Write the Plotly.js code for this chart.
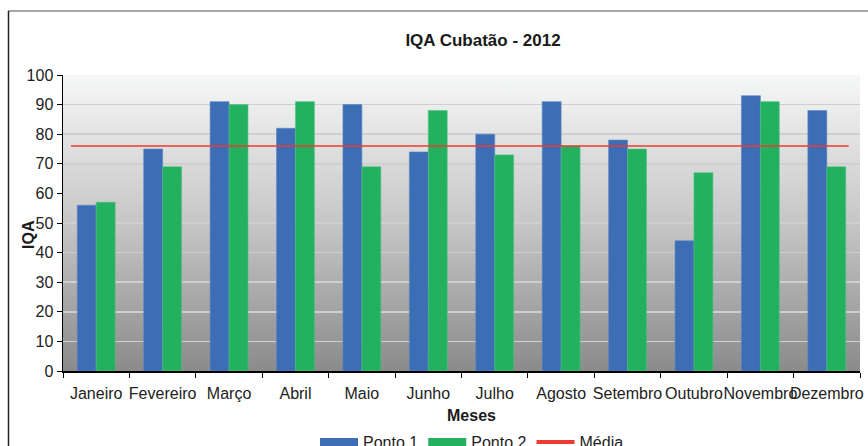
<!DOCTYPE html>
<html>
<head>
<meta charset="utf-8">
<script src="https://cdn.plot.ly/plotly-3.0.1.min.js"></script>
<style>html,body{margin:0;padding:0;background:#fff}#chart{width:868px;height:446px}</style>
</head>
<body>
<div id="chart"></div>
<script>
const months = ["Janeiro","Fevereiro","Março","Abril","Maio","Junho","Julho","Agosto","Setembro","Outubro","Novembro","Dezembro"];
const ponto1 = [56, 75, 91, 82, 90, 74, 80, 91, 78, 44, 93, 88];
const ponto2 = [57, 69, 90, 91, 69, 88, 73, 76, 75, 67, 91, 69];
const media  = [76, 76, 76, 76, 76, 76, 76, 76, 76, 76, 76, 76];
const yTicks = [0, 10, 20, 30, 40, 50, 60, 70, 80, 90, 100];

const BLUE = "#3d6db5", GREEN = "#23b160", RED = "#ec3b2f";
const FONT = "Liberation Sans, Arial, sans-serif";

const bgSvg = "<svg xmlns='http://www.w3.org/2000/svg' width='10' height='10' preserveAspectRatio='none'>" +
  "<defs><linearGradient id='g' x1='0' y1='0' x2='0' y2='1'>" +
  "<stop offset='0' stop-color='#f6f7f7'/><stop offset='0.5' stop-color='#c6c6c6'/><stop offset='1' stop-color='#8b8b8b'/>" +
  "</linearGradient></defs><rect width='10' height='10' fill='url(#g)'/></svg>";
const bgSrc = "data:image/svg+xml;charset=utf-8," + encodeURIComponent(bgSvg);

const traces = [
  {type: "bar", x: months, y: ponto1, name: "Ponto 1", showlegend: false,
   marker: {color: BLUE, line: {color: "#5a86c6", width: 0.6}}},
  {type: "bar", x: months, y: ponto2, name: "Ponto 2", showlegend: false,
   marker: {color: GREEN, line: {color: "#4cc27f", width: 0.6}}},
  {type: "scatter", mode: "lines", x: months, y: media, name: "Média", showlegend: false,
   xaxis: "x2", line: {color: RED, width: 1.5}},
  // legend entries
  {type: "scatter", mode: "lines", x: [null], y: [null], name: "Ponto 1", line: {color: BLUE, width: 8}},
  {type: "scatter", mode: "lines", x: [null], y: [null], name: "Ponto 2", line: {color: GREEN, width: 8}},
  {type: "scatter", mode: "lines", x: [null], y: [null], name: "Média", line: {color: RED, width: 4}}
];

const W = 797, H = 296, L = 63, T = 75;
const px = v => (v - L) / W;
const py = v => (T + H - v) / H;

const layout = {
  width: 868, height: 446,
  margin: {l: L, r: 868 - L - W, t: T, b: 446 - T - H, autoexpand: false},
  paper_bgcolor: "#ffffff", plot_bgcolor: "rgba(0,0,0,0)",
  font: {family: FONT, color: "#222", size: 16},
  title: {text: "<b>IQA Cubatão - 2012</b>", font: {size: 17, color: "#1a1a1a", family: FONT},
          xref: "paper", x: px(483), xanchor: "center", yref: "container", y: 1 - 40/446, yanchor: "middle"},
  bargap: 0.43, bargroupgap: 0, barmode: "group",
  showlegend: true,
  legend: {orientation: "h", x: px(472), xanchor: "center", y: py(425), yanchor: "top",
           font: {size: 16, color: "#222"}, itemwidth: 38, bgcolor: "rgba(0,0,0,0)", traceorder: "normal"},
  xaxis: {type: "category", tickson: "boundaries", ticks: "outside", ticklen: 5, tickcolor: "#000", tickwidth: 1,
          showline: true, linecolor: "#000", linewidth: 1.5, showgrid: false, tickangle: 0, automargin: false,
          tickfont: {size: 16, color: "#222"}, ticklabelstandoff: 7, fixedrange: true},
  xaxis2: {type: "category", overlaying: "x", range: [-0.113, 11.16], visible: false, fixedrange: true},
  yaxis: {range: [0, 100], tickvals: yTicks, ticktext: yTicks.map(String), ticks: "outside", ticklen: 5,
          tickcolor: "#000", showline: true, linecolor: "#000", linewidth: 1.5, automargin: false,
          showgrid: true, gridcolor: "#cfcfcf", gridwidth: 1.5, zeroline: false,
          tickfont: {size: 16, color: "#222"}, fixedrange: true},
  images: [{source: bgSrc, xref: "paper", yref: "paper", x: 0, y: 1, sizex: 1, sizey: 1,
            sizing: "stretch", xanchor: "left", yanchor: "top", layer: "below"}],
  annotations: [
    {text: "<b>IQA</b>", xref: "paper", yref: "paper", x: px(28), y: py(235), textangle: -90,
     showarrow: false, font: {size: 16, color: "#1a1a1a"}, xanchor: "center", yanchor: "middle"},
    {text: "<b>Meses</b>", xref: "paper", yref: "paper", x: px(471), y: py(415),
     showarrow: false, font: {size: 16, color: "#1a1a1a"}, xanchor: "center", yanchor: "middle"}
  ],
  shapes: [
    {type: "line", xref: "paper", yref: "paper", x0: px(8), x1: px(870), y0: py(11), y1: py(11),
     line: {color: "#8a8a8a", width: 1.5}},
    {type: "line", xref: "paper", yref: "paper", x0: px(8.5), x1: px(8.5), y0: py(11), y1: py(450),
     line: {color: "#222", width: 1.5}}
  ]
};

Plotly.newPlot("chart", traces, layout, {displayModeBar: false, staticPlot: true});
</script>
</body>
</html>
